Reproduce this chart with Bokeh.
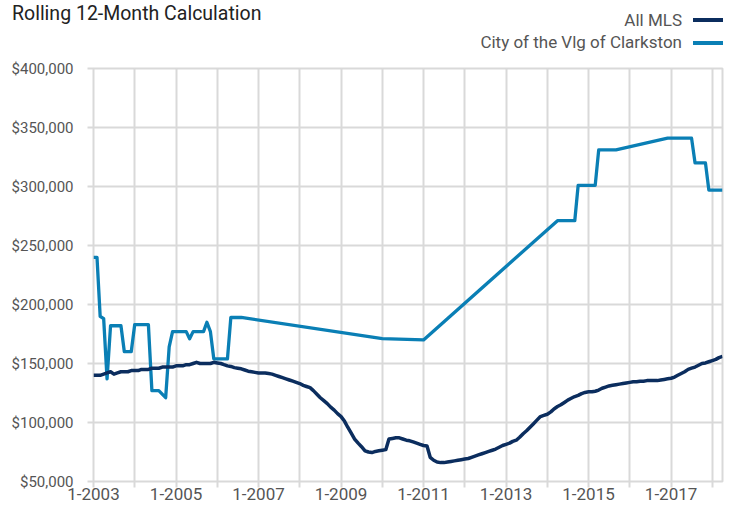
import numpy as np
from bokeh.plotting import figure
from bokeh.layouts import column
from bokeh.models import Range1d, FixedTicker, NumeralTickFormatter, Div
from bokeh.embed import file_html
from bokeh.resources import INLINE

TITLE = "Rolling 12-Month Calculation"
SERIES_NAMES = ["All MLS", "City of the Vlg of Clarkston"]
COLORS = ["#0b2d5e", "#0a7fb5"]

# All MLS, monthly from 2003-01 to 2018-04 (thousands of dollars)
ALL_MLS_START = "2003-01"
ALL_MLS_K = [
    140, 140, 140, 141, 142, 143, 141, 142, 143, 143, 143, 144,          # 2003
    144, 144, 145, 145, 145, 146, 146, 146, 147, 147, 147, 147,          # 2004
    148, 148, 148, 149, 149, 150, 151, 150, 150, 150, 150, 151,          # 2005
    150.5, 150, 149, 148, 147.5, 146.5, 146, 145.5, 144.5, 143.5, 143, 142.5,  # 2006
    142, 142, 142, 141.5, 141, 140, 139, 138, 137, 136, 135, 134,        # 2007
    133, 131.5, 130.5, 129.5, 127, 124, 121, 118.5, 116, 113, 110.5, 107.5,  # 2008
    105, 101, 96, 91, 86, 82.5, 79.5, 76, 75, 74.5, 75.5, 76,            # 2009
    76.5, 77, 86, 86.5, 87, 87, 86, 85, 84.5, 83.5, 82.5, 81.5,          # 2010
    80.5, 80, 70.5, 68, 66.5, 66, 66, 66.5, 67, 67.5, 68, 68.5,          # 2011
    69, 69.5, 70.5, 71.5, 72.5, 73.5, 74.5, 75.5, 76.5, 77.5, 79, 80.5,  # 2012
    81.5, 82.5, 84, 85, 87.5, 90.5, 93, 96, 99, 102, 105, 106,           # 2013
    107, 109, 111.5, 113.5, 115, 117, 119, 120.5, 122, 123, 124.5, 125.5,  # 2014
    126, 126, 126.5, 127.5, 129, 130, 131, 131.5, 132, 132.5, 133, 133.5,  # 2015
    134, 134.5, 134.5, 135, 135, 135.5, 135.5, 135.5, 135.5, 136, 136.5, 137,  # 2016
    137.5, 138.5, 140, 141.5, 143, 145, 146, 147, 148.5, 150, 150.5, 151.5,  # 2017
    152.5, 153.5, 155, 156,                                              # 2018
]

# City of the Vlg of Clarkston (thousands of dollars)
CLARKSTON_MONTHS = [
    "2003-01", "2003-02", "2003-03", "2003-04", "2003-05", "2003-06", "2003-09",
    "2003-10", "2003-12", "2004-01", "2004-05", "2004-06", "2004-08", "2004-10",
    "2004-11", "2004-12", "2005-04", "2005-05", "2005-06", "2005-09", "2005-10",
    "2005-11", "2005-12", "2006-04", "2006-05", "2006-08", "2010-01", "2011-01",
    "2014-04", "2014-09", "2014-10", "2015-03", "2015-04", "2015-09", "2016-12",
    "2017-07", "2017-08", "2017-11", "2017-12", "2018-04",
]
CLARKSTON_K = [
    240, 240, 190, 188, 137, 182, 182,
    160, 160, 183, 183, 127, 127, 121,
    164, 177, 177, 171, 177, 177, 185,
    177, 154, 154, 189, 189, 171, 170,
    271, 271, 301, 301, 331, 331, 341,
    341, 320, 320, 297, 297,
]

YEARS = list(range(2003, 2019))
X_TICK_LABELS = ["1-2003", "", "1-2005", "", "1-2007", "", "1-2009", "", "1-2011", "",
                 "1-2013", "", "1-2015", "", "1-2017", ""]
Y_TICKS = [50000, 100000, 150000, 200000, 250000, 300000, 350000, 400000]
X_END = "2018-04"

FONT = "Roboto"
GRID = "#d9d9d9"
W, HEAD_H, MAIN_H = 724, 58, 449


def month_ms(m):
    return float(np.datetime64(m, "M").astype("datetime64[ms]").astype(np.int64))


mls_x = (np.datetime64(ALL_MLS_START, "M") + np.arange(len(ALL_MLS_K))).astype("datetime64[ms]")
mls_y = np.array(ALL_MLS_K) * 1000
cl_x = np.array(CLARKSTON_MONTHS, dtype="datetime64[M]").astype("datetime64[ms]")
cl_y = np.array(CLARKSTON_K) * 1000
x_ticks = [month_ms(f"{y}-01") for y in YEARS]

# ---- header (title + legend, legend sample drawn to the right of its label)
leg_rows = ""
for name, col, top_txt, top_line in zip(SERIES_NAMES, COLORS, [11.7, 34.2], [18, 41.3]):
    leg_rows += (
        f'<div style="position:absolute;right:42px;top:{top_txt}px;font-size:17px;'
        f'line-height:1;color:#555555;white-space:nowrap;">{name}</div>'
        f'<div style="position:absolute;left:693px;top:{top_line}px;width:30px;height:4px;'
        f'background:{col};"></div>'
    )
header_html = (
    f'<div style="position:relative;width:{W}px;height:{HEAD_H}px;font-family:{FONT};">'
    f'<div style="position:absolute;left:12px;top:3.6px;font-size:19.5px;line-height:1;'
    f'color:#222222;white-space:nowrap;">{TITLE}</div>'
    f'{leg_rows}</div>'
)
head = Div(text=header_html, width=W, height=HEAD_H, margin=0)

# ---- main chart
p = figure(width=W, height=MAIN_H, x_axis_type="datetime", output_backend="svg",
           toolbar_location=None,
           x_range=Range1d(month_ms(ALL_MLS_START), month_ms(X_END)),
           y_range=Range1d(Y_TICKS[0], Y_TICKS[-1]),
           min_border_left=93, min_border_right=2, min_border_top=10, min_border_bottom=26)
p.margin = 0
p.background_fill_color = "white"
p.border_fill_color = "white"
p.outline_line_color = GRID
p.outline_line_width = 2

p.xaxis.ticker = FixedTicker(ticks=x_ticks)
p.xaxis.major_label_overrides = {t: lab for t, lab in zip(x_ticks, X_TICK_LABELS)}
p.yaxis.ticker = FixedTicker(ticks=Y_TICKS)
p.yaxis.formatter = NumeralTickFormatter(format="$0,0")
p.xgrid.ticker = FixedTicker(ticks=x_ticks)
p.ygrid.ticker = FixedTicker(ticks=Y_TICKS)
for g in (p.xgrid, p.ygrid):
    g.grid_line_color = GRID
    g.grid_line_width = 2

for ax in (p.xaxis, p.yaxis):
    ax.axis_line_color = None
    ax.major_tick_line_color = GRID
    ax.major_tick_line_width = 2
    ax.major_tick_in = 0
    ax.major_tick_out = 6
    ax.minor_tick_line_color = None
    ax.major_label_text_font = FONT
    ax.major_label_text_font_size = "15px"
    ax.major_label_text_color = "#555555"
p.yaxis.major_label_standoff = 14
p.xaxis.major_label_standoff = 0
p.xaxis.major_label_text_font_size = "17px"

p.line(cl_x, cl_y, line_color=COLORS[1], line_width=3.3, line_join="round")
p.line(mls_x, mls_y, line_color=COLORS[0], line_width=3.5, line_join="round")

layout = column(head, p, spacing=0)
open("out.html", "w").write(file_html(layout, INLINE))
